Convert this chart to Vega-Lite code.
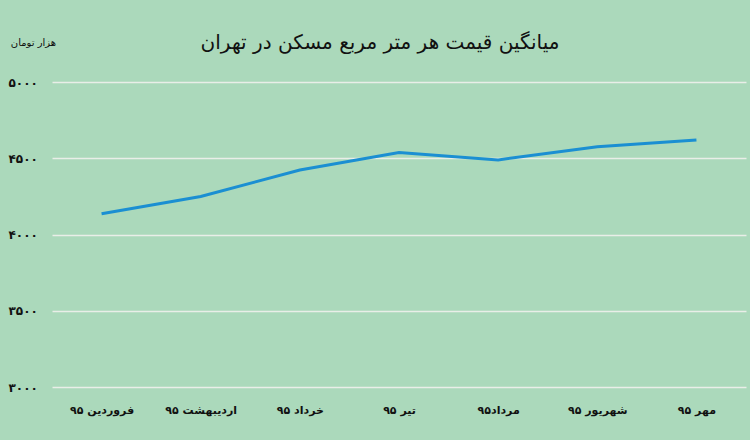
{
  "$schema": "https://vega.github.io/schema/vega-lite/v6.json",
  "autosize": "none",
  "width": 694,
  "height": 305,
  "padding": {"left": 52, "top": 82, "right": 4, "bottom": 53},
  "background": "#abd9bb",
  "title": {
    "text": "میانگین قیمت هر متر مربع مسکن در تهران",
    "font": "DejaVu Sans",
    "fontSize": 20,
    "fontWeight": "normal",
    "color": "#111111",
    "anchor": "middle",
    "frame": "group",
    "dx": -19,
    "offset": -16
  },
  "data": {
    "values": [
      {"month": "فروردین ۹۵", "price": 4136},
      {"month": "اردیبهشت ۹۵", "price": 4249},
      {"month": "خرداد ۹۵", "price": 4423},
      {"month": "تیر ۹۵", "price": 4537},
      {"month": "مرداد۹۵", "price": 4489},
      {"month": "شهریور ۹۵", "price": 4576},
      {"month": "مهر ۹۵", "price": 4620}
    ]
  },
  "mark": {"type": "line", "color": "#1b8fd2", "strokeWidth": 3},
  "encoding": {
    "x": {
      "field": "month",
      "type": "ordinal",
      "sort": null,
      "scale": {"type": "point", "padding": 0.5},
      "axis": {
        "title": null,
        "labelAngle": 0,
        "domain": false,
        "ticks": false,
        "labelPadding": 17,
        "labelFontSize": 11,
        "labelFontWeight": "bold",
        "labelColor": "#111111",
        "labelFont": "DejaVu Sans"
      }
    },
    "y": {
      "field": "price",
      "type": "quantitative",
      "scale": {"domain": [3000, 5000]},
      "axis": {
        "values": [3000, 3500, 4000, 4500, 5000],
        "format": "d",
        "labelExpr": "replace(replace(replace(replace(datum.label, regexp('0','g'), '۰'), regexp('3','g'), '۳'), regexp('4','g'), '۴'), regexp('5','g'), '۵')",
        "domain": false,
        "ticks": false,
        "labelAlign": "left",
        "labelPadding": 44,
        "labelFontSize": 12,
        "labelFontWeight": "bold",
        "labelColor": "#111111",
        "labelFont": "DejaVu Sans",
        "title": "هزار تومان",
        "titleAngle": 0,
        "titleX": -19,
        "titleY": -40,
        "titleAlign": "center",
        "titleBaseline": "middle",
        "titleFont": "DejaVu Sans",
        "titleFontSize": 10,
        "titleFontWeight": "normal",
        "titleColor": "#111111",
        "gridColor": "#e9eee8",
        "gridWidth": 1.5,
        "gridOpacity": 1
      }
    }
  },
  "config": {"view": {"stroke": null}}
}
